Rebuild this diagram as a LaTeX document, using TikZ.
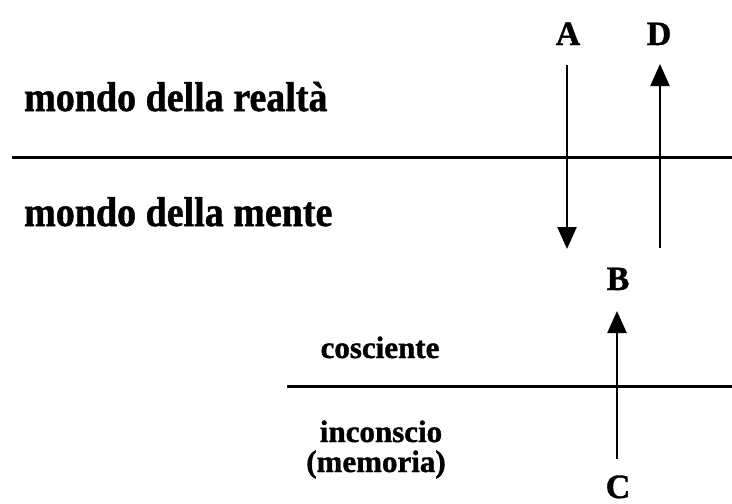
\documentclass[tikz,border=0pt]{standalone}
\usepackage{fontspec}
\setmainfont{Liberation Serif}[BoldFeatures={FakeBold=1.2}]
\usetikzlibrary{arrows.meta}
\begin{document}
\begin{tikzpicture}[x=1pt,y=-1pt,
  bigtxt/.style={anchor=base west,inner sep=0pt,font=\bfseries\fontsize{38}{40}\selectfont},
  smalltxt/.style={anchor=base,inner sep=0pt,font=\bfseries\fontsize{31}{33}\selectfont},
  letter/.style={anchor=base,inner sep=0pt,font=\bfseries\fontsize{34}{36}\selectfont},
  divider/.style={line width=3pt},
  flow/.style={line width=2.4pt,-{Triangle[length=22pt,width=19pt]}}]
\useasboundingbox (0,0) rectangle (732,504);
\fill[white] (0,0) rectangle (732,504);
% texts
\node[bigtxt] (real) at (24,111) {\scalebox{1}[1.1]{mondo della realtà}};
\node[bigtxt] (mente) at (24,226) {\scalebox{1}[1.1]{mondo della mente}};
\node[smalltxt] (cosc) at (380,358) {cosciente};
\node[smalltxt] (incon) at (381,442) {inconscio};
\node[smalltxt] (memo) at (376,472) {(memoria)};
% letters
\node[letter] (A) at (568,45) {A};
\node[letter] (D) at (659,45) {D};
\node[letter] (B) at (618,290) {B};
\node[letter] (C) at (618,498) {C};
% dividers
\coordinate (l1a) at (12,157);
\coordinate (l1b) at (732,157);
\coordinate (l2a) at (287,386);
\coordinate (l2b) at (732,386);
\draw[divider] (l1a) -- (l1b);
\draw[divider] (l2a) -- (l2b);
% arrows
\coordinate (aTop) at (567,65);
\coordinate (aBot) at (567,249);
\coordinate (dBot) at (660,248);
\coordinate (dTop) at (660,64);
\coordinate (cBot) at (617,459);
\coordinate (bTop) at (617,311);
\draw[flow] (aTop) -- (aBot);
\draw[flow] (dBot) -- (dTop);
\draw[flow] (cBot) -- (bTop);
\end{tikzpicture}
\end{document}
